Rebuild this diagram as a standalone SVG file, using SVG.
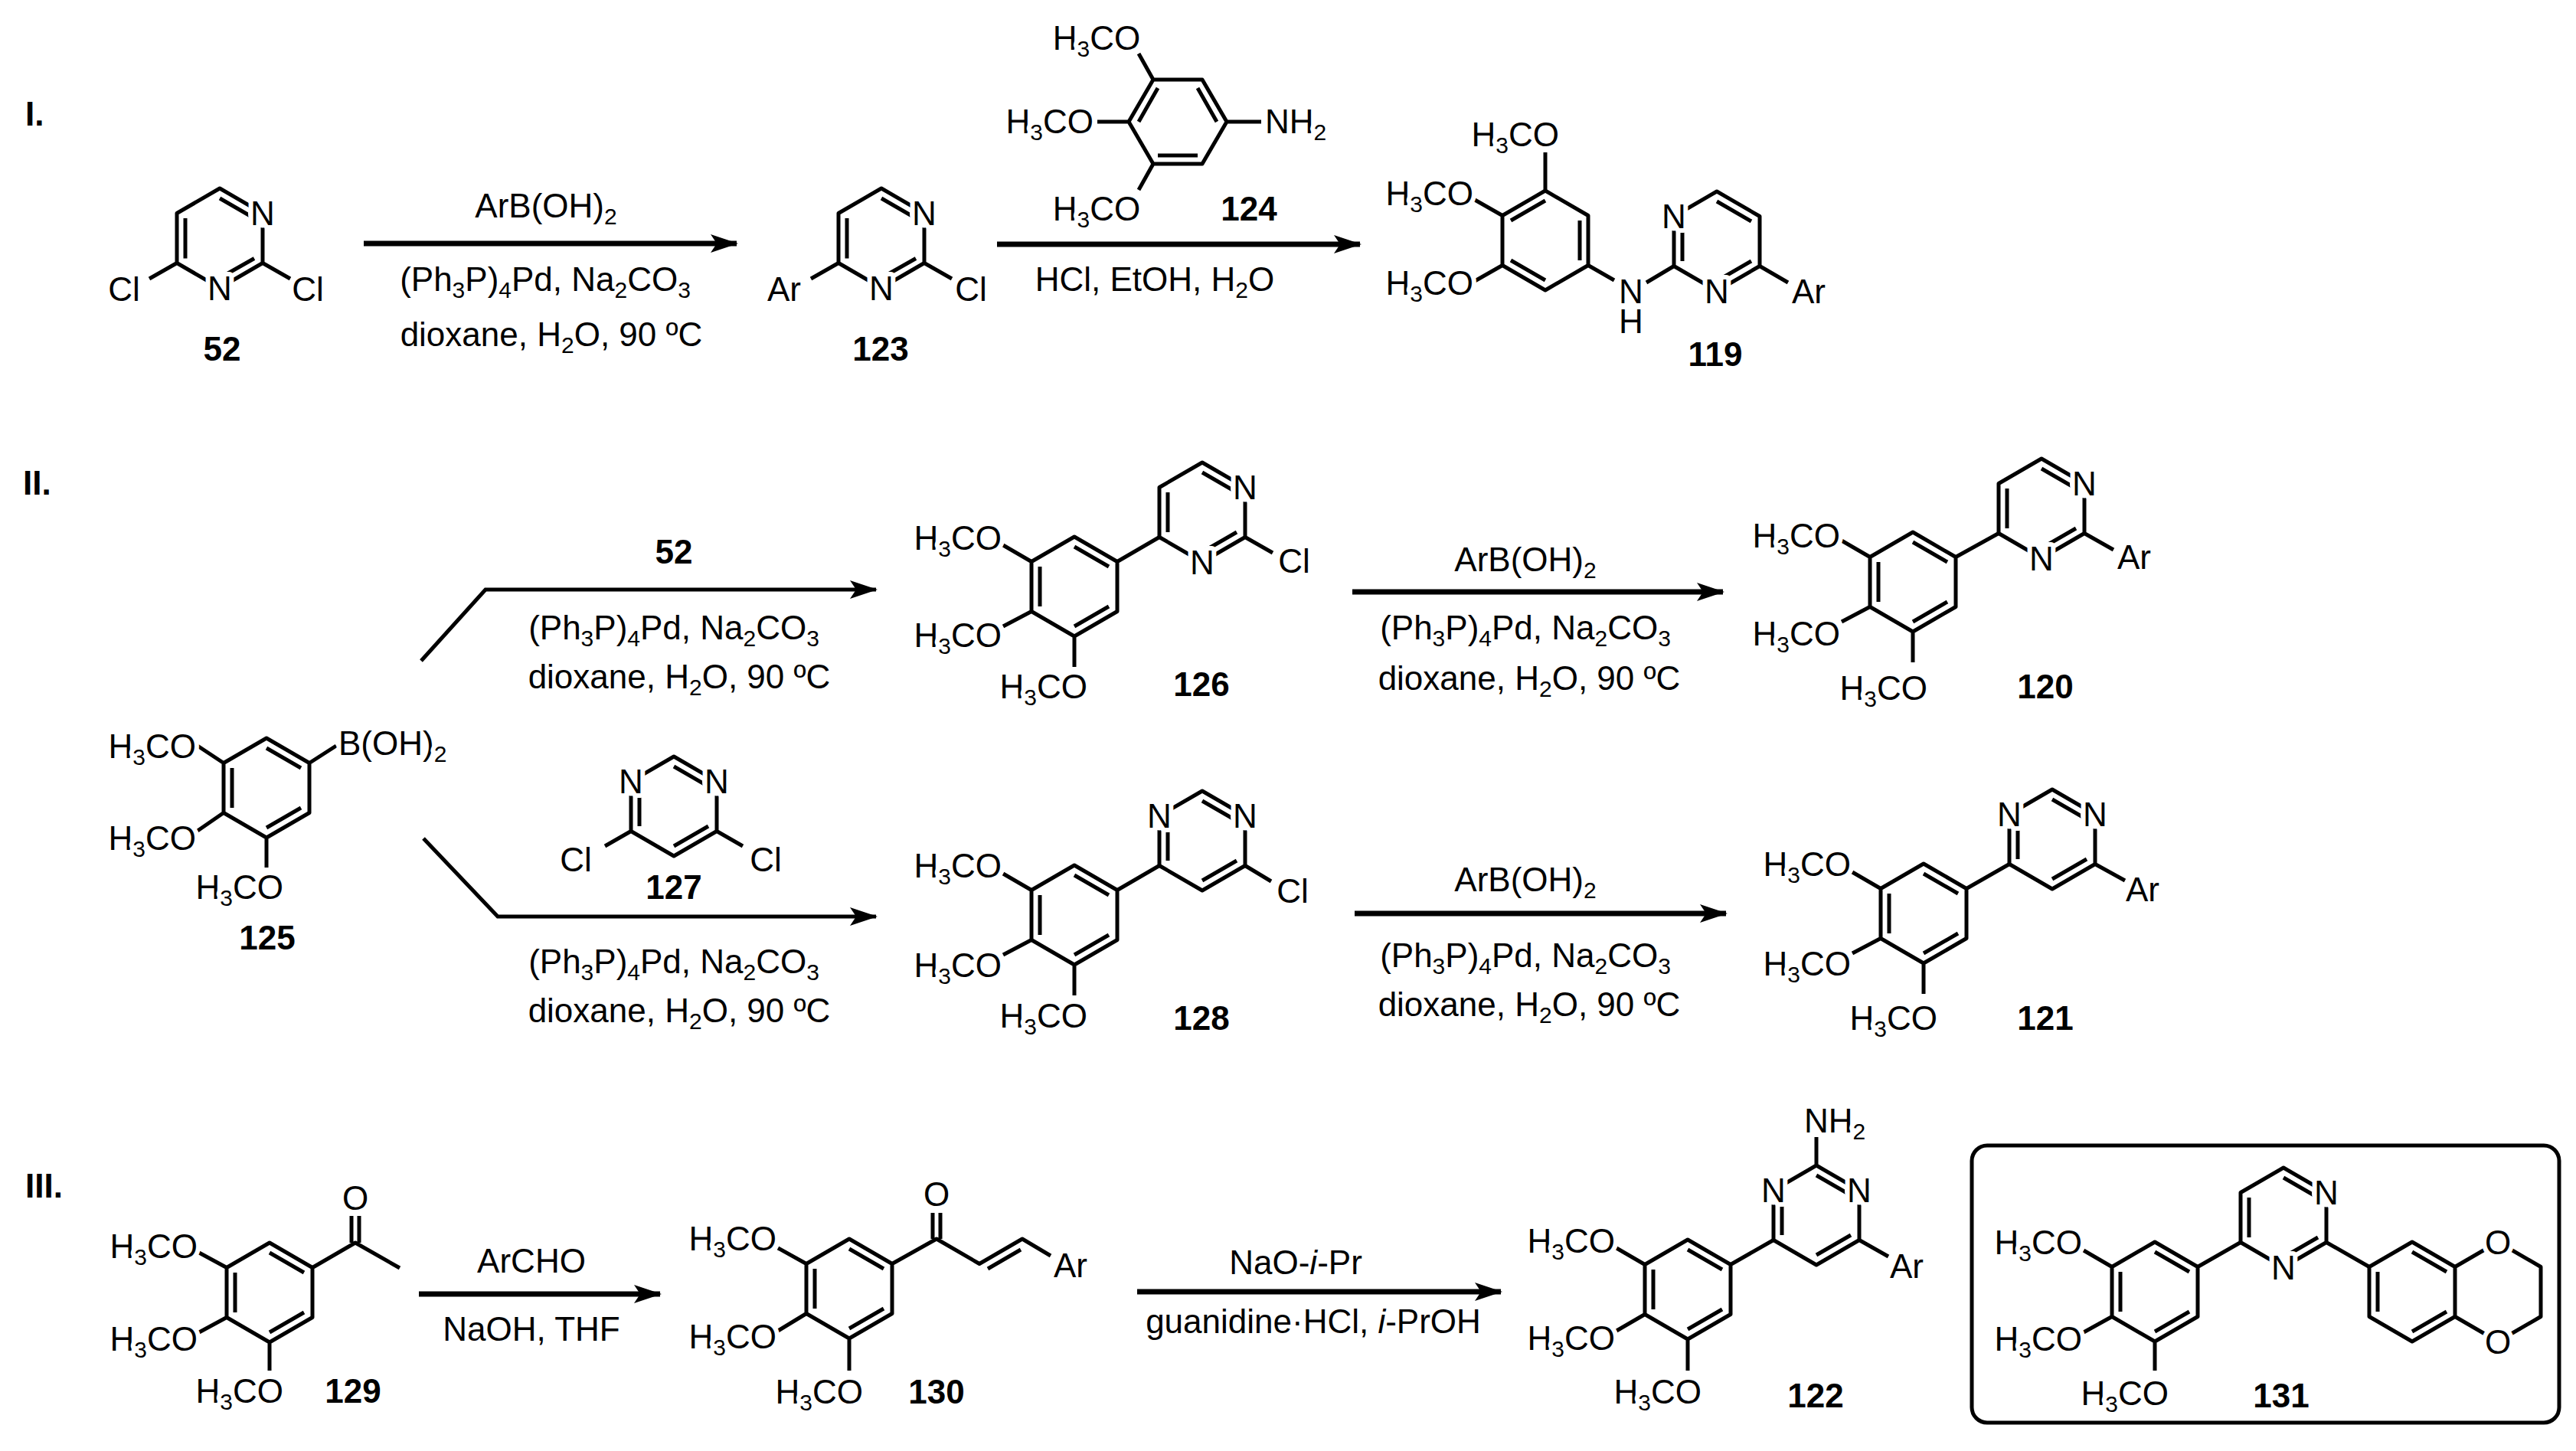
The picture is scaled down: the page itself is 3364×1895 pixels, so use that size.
<svg xmlns="http://www.w3.org/2000/svg" width="3364" height="1895" viewBox="0 0 3364 1895">
<style>
.b{stroke:#000;stroke-width:5;fill:none;stroke-linejoin:round}
.ar{stroke:#000;stroke-width:7;fill:none}
.t{font-family:"Liberation Sans",Arial,sans-serif;font-size:44px;fill:#000}
.a{paint-order:stroke;stroke:#fff;stroke-width:12px;stroke-linejoin:round}
.m{text-anchor:middle}
.e{text-anchor:end}
.n{font-weight:bold}
.s{font-size:30px}
.w{fill:#fff}
</style>
<defs>
<marker id="h" markerUnits="userSpaceOnUse" markerWidth="36" markerHeight="24" viewBox="0 0 36 24" refX="34" refY="12" orient="auto">
<path d="M0,0 L36,12 L0,24 L8,12 Z" fill="#000"/>
</marker>
</defs>
<rect width="3364" height="1895" fill="#fff"/>

<g id="section-labels" class="t n">
<text x="33" y="164">I.</text>
<text x="30" y="646">II.</text>
<text x="33" y="1564">III.</text>
</g>

<g id="connectors">
<line class="ar" x1="475" y1="318" x2="962" y2="318" marker-end="url(#h)"/>
<line class="ar" x1="1302" y1="319" x2="1776" y2="319" marker-end="url(#h)"/>
<polyline class="ar" points="550,863 634,770 1144,770" marker-end="url(#h)" style="stroke-width:5"/>
<polyline class="ar" points="553,1095 650,1197 1144,1197" marker-end="url(#h)" style="stroke-width:5"/>
<line class="ar" x1="1766" y1="773" x2="2250" y2="773" marker-end="url(#h)"/>
<line class="ar" x1="1769" y1="1193" x2="2254" y2="1193" marker-end="url(#h)"/>
<line class="ar" x1="547" y1="1690" x2="862" y2="1690" marker-end="url(#h)"/>
<line class="ar" x1="1485" y1="1687" x2="1960" y2="1687" marker-end="url(#h)"/>
</g>

<g id="reagents" class="t m">
<text x="713" y="284">ArB(OH)<tspan class="s" dy="9">2</tspan></text>
<text x="712" y="380">(Ph<tspan class="s" dy="9">3</tspan><tspan dy="-9">P)</tspan><tspan class="s" dy="9">4</tspan><tspan dy="-9">Pd, Na</tspan><tspan class="s" dy="9">2</tspan><tspan dy="-9">CO</tspan><tspan class="s" dy="9">3</tspan></text>
<text x="720" y="452">dioxane, H<tspan class="s" dy="9">2</tspan><tspan dy="-9">O, 90 ºC</tspan></text>
<text x="1508" y="380">HCl, EtOH, H<tspan class="s" dy="9">2</tspan><tspan dy="-9">O</tspan></text>
<text x="880" y="736" class="n">52</text>
<text x="880" y="835">(Ph<tspan class="s" dy="9">3</tspan><tspan dy="-9">P)</tspan><tspan class="s" dy="9">4</tspan><tspan dy="-9">Pd, Na</tspan><tspan class="s" dy="9">2</tspan><tspan dy="-9">CO</tspan><tspan class="s" dy="9">3</tspan></text>
<text x="887" y="899">dioxane, H<tspan class="s" dy="9">2</tspan><tspan dy="-9">O, 90 ºC</tspan></text>
<text x="880" y="1271">(Ph<tspan class="s" dy="9">3</tspan><tspan dy="-9">P)</tspan><tspan class="s" dy="9">4</tspan><tspan dy="-9">Pd, Na</tspan><tspan class="s" dy="9">2</tspan><tspan dy="-9">CO</tspan><tspan class="s" dy="9">3</tspan></text>
<text x="887" y="1335">dioxane, H<tspan class="s" dy="9">2</tspan><tspan dy="-9">O, 90 ºC</tspan></text>
<text x="1992" y="746">ArB(OH)<tspan class="s" dy="9">2</tspan></text>
<text x="1992" y="835">(Ph<tspan class="s" dy="9">3</tspan><tspan dy="-9">P)</tspan><tspan class="s" dy="9">4</tspan><tspan dy="-9">Pd, Na</tspan><tspan class="s" dy="9">2</tspan><tspan dy="-9">CO</tspan><tspan class="s" dy="9">3</tspan></text>
<text x="1997" y="901">dioxane, H<tspan class="s" dy="9">2</tspan><tspan dy="-9">O, 90 ºC</tspan></text>
<text x="1992" y="1164">ArB(OH)<tspan class="s" dy="9">2</tspan></text>
<text x="1992" y="1263">(Ph<tspan class="s" dy="9">3</tspan><tspan dy="-9">P)</tspan><tspan class="s" dy="9">4</tspan><tspan dy="-9">Pd, Na</tspan><tspan class="s" dy="9">2</tspan><tspan dy="-9">CO</tspan><tspan class="s" dy="9">3</tspan></text>
<text x="1997" y="1327">dioxane, H<tspan class="s" dy="9">2</tspan><tspan dy="-9">O, 90 ºC</tspan></text>
<text x="694" y="1662">ArCHO</text>
<text x="694" y="1751">NaOH, THF</text>
<text x="1692" y="1664">NaO-<tspan font-style="italic">i</tspan>-Pr</text>
<text x="1715" y="1741">guanidine·HCl, <tspan font-style="italic">i</tspan>-PrOH</text>
</g>

<g id="c52">
<path class="b" d="M287,246 L343,278.5 L343,343.5 L287,376 L231,343.5 L231,278.5 Z M242,285 L242,337.5 M287,259 L332,285 M287,363 L332,337.5 M231,343.5 L195,364 M343,343.5 L379,364"/>
<circle class="w" cx="343" cy="278.5" r="19"/><circle class="w" cx="287" cy="376" r="19"/>
<g class="t a m"><text x="343" y="294">N</text><text x="287" y="392">N</text><text x="162" y="393">Cl</text><text x="402" y="393">Cl</text></g>
<text class="t n m" x="290" y="471">52</text>
</g>

<g id="c123">
<path class="b" d="M1151,246 L1207,278.5 L1207,343.5 L1151,376 L1095,343.5 L1095,278.5 Z M1106,285 L1106,337.5 M1151,259 L1196,285 M1151,363 L1196,337.5 M1095,343.5 L1059,364 M1207,343.5 L1243,364"/>
<circle class="w" cx="1207" cy="278.5" r="19"/><circle class="w" cx="1151" cy="376" r="19"/>
<g class="t a m"><text x="1207" y="294">N</text><text x="1151" y="392">N</text><text x="1024" y="393">Ar</text><text x="1268" y="393">Cl</text></g>
<text class="t n m" x="1150" y="471">123</text>
</g>

<g id="c124">
<path class="b" d="M1474,159 L1506,104 L1570,104 L1602,159 L1570,214 L1506,214 Z M1512,115 L1487,159 M1564,115 L1589,159 M1512,203 L1564,203 M1506,104 L1487,70 M1474,159 L1433,159 M1506,214 L1487,248 M1602,159 L1647,159"/>
<g class="t a">
<text x="1432" y="65" class="m">H<tspan class="s" dy="9">3</tspan><tspan dy="-9">CO</tspan></text>
<text x="1428" y="174" class="e">H<tspan class="s" dy="9">3</tspan><tspan dy="-9">CO</tspan></text>
<text x="1432" y="288" class="m">H<tspan class="s" dy="9">3</tspan><tspan dy="-9">CO</tspan></text>
<text x="1652" y="174">NH<tspan class="s" dy="9">2</tspan></text>
</g>
<text class="t n m" x="1631" y="288">124</text>
</g>

<g id="c119">
<path class="b" d="M2018,249 L2074,281.5 L2074,346.5 L2018,379 L1962,346.5 L1962,281.5 Z M2018,262 L1973,288 M2063,288 L2063,340 M1973,340 L2018,366 M2018,249 L2018,199 M1962,281.5 L1926,261 M1962,346.5 L1926,367 M2074,346.5 L2108,366 M2150,369 L2186,347.5"/>
<path class="b" d="M2186,282.5 L2242,250 L2298,282.5 L2298,347.5 L2242,380 L2186,347.5 Z M2197,289 L2197,341 M2242,263 L2287,289 M2287,341 L2242,367 M2298,347.5 L2335,369"/>
<circle class="w" cx="2186" cy="282.5" r="19"/><circle class="w" cx="2242" cy="380" r="19"/>
<g class="t a">
<text x="2036" y="191" class="e">H<tspan class="s" dy="9">3</tspan><tspan dy="-9">CO</tspan></text>
<text x="1924" y="268" class="e">H<tspan class="s" dy="9">3</tspan><tspan dy="-9">CO</tspan></text>
<text x="1924" y="385" class="e">H<tspan class="s" dy="9">3</tspan><tspan dy="-9">CO</tspan></text>
<text x="2130" y="396" class="m">N</text>
<text x="2130" y="435" class="m">H</text>
<text x="2186" y="298" class="m">N</text>
<text x="2242" y="396" class="m">N</text>
<text x="2362" y="396" class="m">Ar</text>
</g>
<text class="t n m" x="2240" y="478">119</text>
</g>

<g id="c125">
<path class="b" d="M348,964 L404,996.5 L404,1061.5 L348,1094 L292,1061.5 L292,996.5 Z M348,977 L393,1003 M303,1003 L303,1055 M393,1055 L348,1081 M404,996.5 L439,974 M292,996.5 L258,974 M292,1061.5 L258,1085 M348,1094 L348,1133"/>
<g class="t a">
<text x="442" y="986">B(OH)<tspan class="s" dy="9">2</tspan></text>
<text x="256" y="990" class="e">H<tspan class="s" dy="9">3</tspan><tspan dy="-9">CO</tspan></text>
<text x="256" y="1110" class="e">H<tspan class="s" dy="9">3</tspan><tspan dy="-9">CO</tspan></text>
<text x="370" y="1174" class="e">H<tspan class="s" dy="9">3</tspan><tspan dy="-9">CO</tspan></text>
</g>
<text class="t n m" x="349" y="1240">125</text>
</g>

<g id="c127">
<path class="b" d="M880,988 L936,1020.5 L936,1085.5 L880,1118 L824,1085.5 L824,1020.5 Z M880,1001 L925,1027 M835,1027 L835,1079 M925,1079 L880,1105 M824,1085.5 L790,1105 M936,1085.5 L970,1105"/>
<circle class="w" cx="824" cy="1020.5" r="19"/><circle class="w" cx="936" cy="1020.5" r="19"/>
<g class="t a m"><text x="824" y="1036">N</text><text x="936" y="1036">N</text><text x="752" y="1138">Cl</text><text x="1000" y="1138">Cl</text></g>
<text class="t n m" x="880" y="1174">127</text>
</g>

<g id="c126">
<path class="b" d="M1403,701 L1459,733.5 L1459,798.5 L1403,831 L1347,798.5 L1347,733.5 Z M1403,714 L1448,740 M1358,740 L1358,792 M1448,792 L1403,818 M1347,733.5 L1310,712 M1347,798.5 L1310,818 M1403,831 L1403,871 M1459,733.5 L1514,701.5"/>
<path class="b" d="M1570,604 L1626,636.5 L1626,701.5 L1570,734 L1514,701.5 L1514,636.5 Z M1570,617 L1615,643 M1525,643 L1525,695 M1570,721 L1615,695 M1626,701.5 L1662,722"/>
<circle class="w" cx="1626" cy="636.5" r="19"/><circle class="w" cx="1570" cy="734" r="19"/>
<g class="t a">
<text x="1308" y="718" class="e">H<tspan class="s" dy="9">3</tspan><tspan dy="-9">CO</tspan></text>
<text x="1308" y="845" class="e">H<tspan class="s" dy="9">3</tspan><tspan dy="-9">CO</tspan></text>
<text x="1420" y="912" class="e">H<tspan class="s" dy="9">3</tspan><tspan dy="-9">CO</tspan></text>
<text x="1626" y="652" class="m">N</text>
<text x="1570" y="750" class="m">N</text>
<text x="1690" y="748" class="m">Cl</text>
</g>
<text class="t n m" x="1569" y="909">126</text>
</g>

<g id="c128">
<path class="b" d="M1403,1130 L1459,1162.5 L1459,1227.5 L1403,1260 L1347,1227.5 L1347,1162.5 Z M1403,1143 L1448,1169 M1358,1169 L1358,1221 M1448,1221 L1403,1247 M1347,1162.5 L1310,1141 M1347,1227.5 L1310,1247 M1403,1260 L1403,1300 M1459,1162.5 L1514,1130.5"/>
<path class="b" d="M1570,1033 L1626,1065.5 L1626,1130.5 L1570,1163 L1514,1130.5 L1514,1065.5 Z M1570,1046 L1615,1072 M1525,1072 L1525,1124 M1570,1150 L1615,1124 M1626,1130.5 L1660,1151"/>
<circle class="w" cx="1514" cy="1065.5" r="19"/><circle class="w" cx="1626" cy="1065.5" r="19"/>
<g class="t a">
<text x="1308" y="1146" class="e">H<tspan class="s" dy="9">3</tspan><tspan dy="-9">CO</tspan></text>
<text x="1308" y="1276" class="e">H<tspan class="s" dy="9">3</tspan><tspan dy="-9">CO</tspan></text>
<text x="1420" y="1342" class="e">H<tspan class="s" dy="9">3</tspan><tspan dy="-9">CO</tspan></text>
<text x="1514" y="1081" class="m">N</text>
<text x="1626" y="1081" class="m">N</text>
<text x="1688" y="1179" class="m">Cl</text>
</g>
<text class="t n m" x="1569" y="1345">128</text>
</g>

<g id="c120">
<path class="b" d="M2498,695 L2554,727.5 L2554,792.5 L2498,825 L2442,792.5 L2442,727.5 Z M2498,708 L2543,734 M2453,734 L2453,786 M2543,786 L2498,812 M2442,727.5 L2405,706 M2442,792.5 L2405,812 M2498,825 L2498,865 M2554,727.5 L2610,696.5"/>
<path class="b" d="M2666,599 L2722,631.5 L2722,696.5 L2666,729 L2610,696.5 L2610,631.5 Z M2666,612 L2711,638 M2621,638 L2621,690 M2666,716 L2711,690 M2722,696.5 L2760,718"/>
<circle class="w" cx="2722" cy="631.5" r="19"/><circle class="w" cx="2666" cy="729" r="19"/>
<g class="t a">
<text x="2403" y="715" class="e">H<tspan class="s" dy="9">3</tspan><tspan dy="-9">CO</tspan></text>
<text x="2403" y="843" class="e">H<tspan class="s" dy="9">3</tspan><tspan dy="-9">CO</tspan></text>
<text x="2517" y="914" class="e">H<tspan class="s" dy="9">3</tspan><tspan dy="-9">CO</tspan></text>
<text x="2722" y="647" class="m">N</text>
<text x="2666" y="745" class="m">N</text>
<text x="2787" y="743" class="m">Ar</text>
</g>
<text class="t n m" x="2671" y="912">120</text>
</g>

<g id="c121">
<path class="b" d="M2512,1128 L2568,1160.5 L2568,1225.5 L2512,1258 L2456,1225.5 L2456,1160.5 Z M2512,1141 L2557,1167 M2467,1167 L2467,1219 M2557,1219 L2512,1245 M2456,1160.5 L2419,1139 M2456,1225.5 L2419,1245 M2512,1258 L2512,1298 M2568,1160.5 L2624,1128.5"/>
<path class="b" d="M2680,1031 L2736,1063.5 L2736,1128.5 L2680,1161 L2624,1128.5 L2624,1063.5 Z M2680,1044 L2725,1070 M2635,1070 L2635,1122 M2680,1148 L2725,1122 M2736,1128.5 L2775,1150"/>
<circle class="w" cx="2624" cy="1063.5" r="19"/><circle class="w" cx="2736" cy="1063.5" r="19"/>
<g class="t a">
<text x="2417" y="1144" class="e">H<tspan class="s" dy="9">3</tspan><tspan dy="-9">CO</tspan></text>
<text x="2417" y="1274" class="e">H<tspan class="s" dy="9">3</tspan><tspan dy="-9">CO</tspan></text>
<text x="2530" y="1345" class="e">H<tspan class="s" dy="9">3</tspan><tspan dy="-9">CO</tspan></text>
<text x="2624" y="1079" class="m">N</text>
<text x="2736" y="1079" class="m">N</text>
<text x="2798" y="1177" class="m">Ar</text>
</g>
<text class="t n m" x="2671" y="1345">121</text>
</g>

<g id="c129">
<path class="b" d="M352,1623 L408,1655.5 L408,1720.5 L352,1753 L296,1720.5 L296,1655.5 Z M352,1636 L397,1662 M307,1662 L307,1714 M397,1714 L352,1740 M408,1655.5 L464,1623 L522,1656 M459,1623 L459,1588 M469,1623 L469,1588 M296,1655.5 L260,1636 M296,1720.5 L260,1740 M352,1753 L352,1790"/>
<g class="t a">
<text x="464" y="1580" class="m">O</text>
<text x="258" y="1643" class="e">H<tspan class="s" dy="9">3</tspan><tspan dy="-9">CO</tspan></text>
<text x="258" y="1764" class="e">H<tspan class="s" dy="9">3</tspan><tspan dy="-9">CO</tspan></text>
<text x="370" y="1832" class="e">H<tspan class="s" dy="9">3</tspan><tspan dy="-9">CO</tspan></text>
</g>
<text class="t n m" x="461" y="1832">129</text>
</g>

<g id="c130">
<path class="b" d="M1109,1618 L1165,1650.5 L1165,1715.5 L1109,1748 L1053,1715.5 L1053,1650.5 Z M1109,1631 L1154,1657 M1064,1657 L1064,1709 M1154,1709 L1109,1735 M1165,1650.5 L1223,1618 L1279,1650.5 L1335,1618 L1372,1640 M1218,1618 L1218,1584 M1228,1618 L1228,1584 M1290,1657 L1333,1632 M1053,1650.5 L1016,1630 M1053,1715.5 L1016,1738 M1109,1748 L1109,1790"/>
<g class="t a">
<text x="1223" y="1575" class="m">O</text>
<text x="1398" y="1668" class="m">Ar</text>
<text x="1014" y="1633" class="e">H<tspan class="s" dy="9">3</tspan><tspan dy="-9">CO</tspan></text>
<text x="1014" y="1761" class="e">H<tspan class="s" dy="9">3</tspan><tspan dy="-9">CO</tspan></text>
<text x="1127" y="1833" class="e">H<tspan class="s" dy="9">3</tspan><tspan dy="-9">CO</tspan></text>
</g>
<text class="t n m" x="1223" y="1833">130</text>
</g>

<g id="c122">
<path class="b" d="M2204,1619 L2260,1651.5 L2260,1716.5 L2204,1749 L2148,1716.5 L2148,1651.5 Z M2204,1632 L2249,1658 M2159,1658 L2159,1710 M2249,1710 L2204,1736 M2148,1651.5 L2111,1630 M2148,1716.5 L2111,1738 M2204,1749 L2204,1790 M2260,1651.5 L2316,1619.5"/>
<path class="b" d="M2372,1522 L2428,1554.5 L2428,1619.5 L2372,1652 L2316,1619.5 L2316,1554.5 Z M2372,1535 L2417,1561 M2327,1561 L2327,1613 M2372,1639 L2417,1613 M2372,1522 L2372,1485 M2428,1619.5 L2466,1641"/>
<circle class="w" cx="2316" cy="1554.5" r="19"/><circle class="w" cx="2428" cy="1554.5" r="19"/>
<g class="t a">
<text x="2109" y="1636" class="e">H<tspan class="s" dy="9">3</tspan><tspan dy="-9">CO</tspan></text>
<text x="2109" y="1763" class="e">H<tspan class="s" dy="9">3</tspan><tspan dy="-9">CO</tspan></text>
<text x="2222" y="1833" class="e">H<tspan class="s" dy="9">3</tspan><tspan dy="-9">CO</tspan></text>
<text x="2356" y="1479">NH<tspan class="s" dy="9">2</tspan></text>
<text x="2316" y="1570" class="m">N</text>
<text x="2428" y="1570" class="m">N</text>
<text x="2490" y="1669" class="m">Ar</text>
</g>
<text class="t n m" x="2371" y="1838">122</text>
</g>

<g id="c131">
<rect x="2575" y="1496" width="767" height="362" rx="20" class="b"/>
<path class="b" d="M2814,1622 L2870,1654.5 L2870,1719.5 L2814,1752 L2758,1719.5 L2758,1654.5 Z M2814,1635 L2859,1661 M2769,1661 L2769,1713 M2859,1713 L2814,1739 M2758,1654.5 L2721,1633 M2758,1719.5 L2721,1740 M2814,1752 L2814,1790 M2870,1654.5 L2926,1622.5"/>
<path class="b" d="M2982,1525 L3038,1557.5 L3038,1622.5 L2982,1655 L2926,1622.5 L2926,1557.5 Z M2982,1538 L3027,1564 M2937,1564 L2937,1616 M2982,1642 L3027,1616 M3038,1622.5 L3094,1654.5"/>
<path class="b" d="M3150,1622 L3206,1654.5 L3206,1719.5 L3150,1752 L3094,1719.5 L3094,1654.5 Z M3150,1635 L3195,1661 M3105,1661 L3105,1713 M3195,1713 L3150,1739 M3206,1654.5 L3262,1622 L3318,1654.5 L3318,1719.5 L3262,1752 L3206,1719.5"/>
<circle class="w" cx="3038" cy="1557.5" r="19"/><circle class="w" cx="2982" cy="1655" r="19"/><circle class="w" cx="3262" cy="1622" r="20"/><circle class="w" cx="3262" cy="1752" r="20"/>
<g class="t a">
<text x="2719" y="1638" class="e">H<tspan class="s" dy="9">3</tspan><tspan dy="-9">CO</tspan></text>
<text x="2719" y="1764" class="e">H<tspan class="s" dy="9">3</tspan><tspan dy="-9">CO</tspan></text>
<text x="2832" y="1835" class="e">H<tspan class="s" dy="9">3</tspan><tspan dy="-9">CO</tspan></text>
<text x="3038" y="1573" class="m">N</text>
<text x="2982" y="1671" class="m">N</text>
<text x="3262" y="1638" class="m">O</text>
<text x="3262" y="1768" class="m">O</text>
</g>
<text class="t n m" x="2979" y="1838">131</text>
</g>
</svg>
